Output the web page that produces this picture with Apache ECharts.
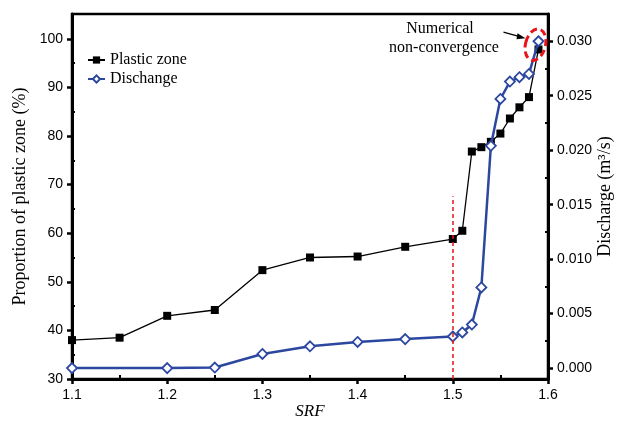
<!DOCTYPE html>
<html>
<head>
<meta charset="utf-8">
<script src="https://cdn.jsdelivr.net/npm/echarts@6/dist/echarts.min.js"></script>
<style>
  html, body { margin: 0; padding: 0; background: #fff; }
  #main { width: 627px; height: 423px; }
</style>
</head>
<body>
<div id="main"></div>
<script>
// 数据
var srfPlastic = [1.1, 1.15, 1.2, 1.25, 1.3, 1.35, 1.4, 1.45, 1.5, 1.51, 1.52, 1.53, 1.54, 1.55, 1.56, 1.57, 1.58, 1.59];
var plasticZone = [38.0, 38.5, 43.0, 44.2, 52.4, 55.0, 55.2, 57.2, 58.8, 60.5, 76.8, 77.7, 78.8, 80.5, 83.6, 85.9, 88.0, 97.8];

var srfDischarge = [1.1, 1.2, 1.25, 1.3, 1.35, 1.4, 1.45, 1.5, 1.51, 1.52, 1.53, 1.54, 1.55, 1.56, 1.57, 1.58, 1.59];
var discharge = [0.0000, 0.0000, 0.00005, 0.0013, 0.0020, 0.0024, 0.00266, 0.0029, 0.00327, 0.0040, 0.0074, 0.0204, 0.0247, 0.0263, 0.0267, 0.0270, 0.0300];

var xTicks = [1.1, 1.2, 1.3, 1.4, 1.5, 1.6];
var xMinorTicks = [1.15, 1.25, 1.35, 1.45, 1.55];
var leftTicks = [30, 40, 50, 60, 70, 80, 90, 100];
var leftMinorTicks = [35, 45, 55, 65, 75, 85, 95];
var rightTicks = [0, 0.005, 0.010, 0.015, 0.020, 0.025, 0.030];
var rightMinorTicks = [0.0025, 0.0075, 0.0125, 0.0175, 0.0225, 0.0275];

var failSrf = 1.5;       // 红色虚线位置
var failLineTop = 67.6;  // 虚线顶端(左轴)

var blue = '#2b47a0';
var serif = '"Liberation Serif", "Times New Roman", serif';
var sans = '"Liberation Sans", Arial, sans-serif';

function pair(xs, ys) {
  var out = [];
  for (var i = 0; i < xs.length; i++) out.push([xs[i], ys[i]]);
  return out;
}

var myChart = echarts.init(document.getElementById('main'), null, { renderer: 'canvas' });

var xMin = 1.1, xMax = 1.6;
var lMin = 30, lMax = 105.1;
var rMin = -0.001, rMax = 0.0325;

var option = {
  animation: false,
  grid: {
    left: 72, right: 79, top: 14, bottom: 44,
    outerBoundsMode: 'none',
    show: true, borderColor: '#000', borderWidth: 2.5
  },
  legend: {
    orient: 'vertical',
    left: 82, top: 47,
    itemWidth: 17, itemHeight: 9, itemGap: 3,
    textStyle: { fontFamily: serif, fontSize: 16, color: '#000' },
    data: ['Plastic zone', 'Dischange']
  },
  xAxis: [{
    type: 'value', min: xMin, max: xMax,
    name: 'SRF', nameLocation: 'middle', nameGap: 24, nameMoveOverlap: false,
    nameTextStyle: { fontFamily: serif, fontStyle: 'italic', fontSize: 17, color: '#000' },
    axisLine: { onZero: false, lineStyle: { color: '#000', width: 3 } },
    axisTick: { length: 5, lineStyle: { width: 2.5, color: '#000' }, customValues: xTicks },
    axisLabel: { customValues: xTicks, margin: 9, fontFamily: sans, fontSize: 14, color: '#000',
      formatter: function (v) { return v.toFixed(1); } },
    splitLine: { show: false }
  }, {
    type: 'value', min: xMin, max: xMax, position: 'bottom',
    axisLine: { show: false, onZero: false },
    axisTick: { inside: true, length: 4, lineStyle: { width: 2, color: '#000' }, customValues: xMinorTicks },
    axisLabel: { show: false }, splitLine: { show: false }
  }],
  yAxis: [{
    type: 'value', min: lMin, max: lMax, position: 'left',
    name: 'Proportion of plastic zone (%)', nameLocation: 'middle', nameGap: 43, nameMoveOverlap: false,
    nameTextStyle: { fontFamily: serif, fontSize: 18, color: '#000' },
    axisLine: { show: true, onZero: false, lineStyle: { color: '#000', width: 3 } },
    axisTick: { length: 5, lineStyle: { width: 2.5, color: '#000' }, customValues: leftTicks },
    axisLabel: { customValues: leftTicks, margin: 9, fontFamily: sans, fontSize: 14, color: '#000' },
    splitLine: { show: false }
  }, {
    type: 'value', min: rMin, max: rMax, position: 'right',
    name: 'Discharge (m\u00b3/s)', nameLocation: 'middle', nameGap: 48, nameRotate: 90, nameMoveOverlap: false,
    nameTextStyle: { fontFamily: serif, fontSize: 18, color: '#000' },
    axisLine: { show: true, onZero: false, lineStyle: { color: '#000', width: 3 } },
    axisTick: { length: 5, lineStyle: { width: 2.5, color: '#000' }, customValues: rightTicks },
    axisLabel: { customValues: rightTicks, margin: 9, fontFamily: sans, fontSize: 14, color: '#000',
      formatter: function (v) { return v.toFixed(3); } },
    splitLine: { show: false }
  }, {
    type: 'value', min: lMin, max: lMax, position: 'left',
    axisLine: { show: false, onZero: false },
    axisTick: { inside: true, length: 3, lineStyle: { width: 2, color: '#000' }, customValues: leftMinorTicks },
    axisLabel: { show: false }, splitLine: { show: false }
  }, {
    type: 'value', min: rMin, max: rMax, position: 'right',
    axisLine: { show: false, onZero: false },
    axisTick: { inside: true, length: 3, lineStyle: { width: 2, color: '#000' }, customValues: rightMinorTicks },
    axisLabel: { show: false }, splitLine: { show: false }
  }],
  series: [{
    name: 'Plastic zone', type: 'line',
    xAxisIndex: 0, yAxisIndex: 0,
    data: pair(srfPlastic, plasticZone),
    symbol: 'rect', symbolSize: 8,
    lineStyle: { color: '#000', width: 1.3 },
    itemStyle: { color: '#000' },
    z: 2,
    markLine: {
      silent: true, symbol: 'none', label: { show: false },
      lineStyle: { color: '#e8141a', type: [4, 3], width: 1.5 },
      data: [[{ coord: [failSrf, lMin] }, { coord: [failSrf, failLineTop] }]]
    }
  }, {
    name: 'Dischange', type: 'line',
    xAxisIndex: 0, yAxisIndex: 1,
    data: pair(srfDischarge, discharge),
    symbol: 'diamond', symbolSize: 10,
    lineStyle: { color: blue, width: 2.5 },
    itemStyle: { color: '#fff', borderColor: blue, borderWidth: 1.8 },
    z: 3
  }]
};

myChart.setOption(option);

// 标注: 数值不收敛
var last = myChart.convertToPixel({ xAxisIndex: 0, yAxisIndex: 1 },
  [srfDischarge[srfDischarge.length - 1], discharge[discharge.length - 1]]);
var px = last[0], py = last[1];

myChart.setOption({
  graphic: [{
    type: 'ellipse',
    x: px - 3, y: py + 3.5, rotation: -0.25,
    shape: { cx: 0, cy: 0, rx: 10, ry: 16 },
    style: { fill: 'none', stroke: '#e8141a', lineWidth: 3, lineDash: [7, 4] },
    z: 10
  }, {
    type: 'line',
    shape: { x1: px - 35, y1: py - 9, x2: px - 17, y2: py - 4 },
    style: { stroke: '#000', lineWidth: 1.3 },
    z: 10
  }, {
    type: 'polygon',
    shape: { points: [[px - 13, py - 3], [px - 21, py - 8], [px - 22, py - 2]] },
    style: { fill: '#000' },
    z: 10
  }, {
    type: 'text',
    x: 440, y: 29,
    style: { text: 'Numerical', align: 'center', verticalAlign: 'middle',
      font: '16px ' + serif, fill: '#000' },
    z: 10
  }, {
    type: 'text',
    x: 444, y: 48,
    style: { text: 'non-convergence', align: 'center', verticalAlign: 'middle',
      font: '16px ' + serif, fill: '#000' },
    z: 10
  }]
});
</script>
</body>
</html>
